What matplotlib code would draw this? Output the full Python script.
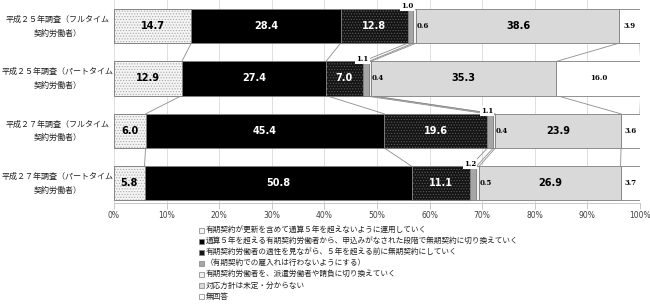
import matplotlib
matplotlib.use("Agg")
import matplotlib.pyplot as plt
from matplotlib.patches import Rectangle
import numpy as np

plt.rcParams['font.family'] = ['Noto Sans CJK JP', 'DejaVu Sans']
plt.rcParams['hatch.linewidth'] = 0.5

# Survey groups (top to bottom)
groups = [
    "平成２５年調査（フルタイム\n契約労働者）",
    "平成２５年調査（パートタイム\n契約労働者）",
    "平成２７年調査（フルタイム\n契約労働者）",
    "平成２７年調査（パートタイム\n契約労働者）",
]

# Response categories
categories = [
    "有期契約が更新を含めて通算５年を超えないように運用していく",
    "通算５年を超える有期契約労働者から、申込みがなされた段階で無期契約に切り換えていく",
    "有期契約労働者の適性を見ながら、５年を超える前に無期契約にしていく",
    "（有期契約での雇入れは行わないようにする）",
    "有期契約労働者を、派遣労働者や請負に切り換えていく",
    "対応方針は未定・分からない",
    "無回答",
]

# Shares (%) per category, one value per group
share_5yr_limit = [14.7, 12.9, 6.0, 5.8]
share_on_request = [28.4, 27.4, 45.4, 50.8]
share_before_5yr = [12.8, 7.0, 19.6, 11.1]
share_no_fixed = [1.0, 1.1, 1.1, 1.2]
share_dispatch = [0.6, 0.4, 0.4, 0.5]
share_undecided = [38.6, 35.3, 23.9, 26.9]
share_no_answer = [3.9, 16.0, 3.6, 3.7]

xticks = [0, 10, 20, 30, 40, 50, 60, 70, 80, 90, 100]
xticklabels = ["0%", "10%", "20%", "30%", "40%", "50%", "60%", "70%", "80%", "90%", "100%"]

series = [share_5yr_limit, share_on_request, share_before_5yr, share_no_fixed,
          share_dispatch, share_undecided, share_no_answer]

styles = [
    dict(facecolor="#f4f4f4", hatch="......", hatchcolor="#a8a8a8"),
    dict(facecolor="#000000", hatch=None, hatchcolor=None),
    dict(facecolor="#141414", hatch="......", hatchcolor="#5a5a5a"),
    dict(facecolor="#a6a6a6", hatch=None, hatchcolor=None),
    dict(facecolor="#f2f2f2", hatch=None, hatchcolor=None),
    dict(facecolor="#d9d9d9", hatch=None, hatchcolor=None),
    dict(facecolor="#ffffff", hatch=None, hatchcolor=None),
]
edge = "#7f7f7f"

fig = plt.figure(figsize=(6.5, 3.07), dpi=100)
ax = fig.add_axes([114 / 650, 1 - 203 / 307, 526 / 650, 203 / 307])

y = np.arange(len(groups))
bar_h = 0.65
data = np.array(series)
cum = np.vstack([np.zeros(len(groups)), np.cumsum(data, axis=0)])

for k, vals in enumerate(series):
    st = styles[k]
    kw = {}
    if st["hatch"]:
        kw["hatch"] = st["hatch"]
    bars = ax.barh(y, vals, left=cum[k], height=bar_h, color=st["facecolor"],
                   edgecolor=edge, linewidth=0.6, zorder=3, **kw)
    if st["hatch"]:
        for b in bars:
            b.set_edgecolor(st["hatchcolor"])
        # outline drawn separately so the hatch colour stays independent
        ax.barh(y, vals, left=cum[k], height=bar_h, facecolor="none",
                edgecolor=edge, linewidth=0.6, zorder=3.5)

# series lines joining segment boundaries of neighbouring bars
for k in range(1, cum.shape[0]):
    for i in range(len(groups) - 1):
        ax.plot([cum[k][i], cum[k][i + 1]],
                [y[i] + bar_h / 2, y[i + 1] - bar_h / 2],
                color="#8c8c8c", linewidth=0.6, zorder=2)

# value labels
for i in range(len(groups)):
    # large segments
    for k, col in [(0, "black"), (1, "white"), (2, "white"), (5, "black")]:
        xc = cum[k][i] + series[k][i] / 2
        ax.text(xc, y[i], f"{series[k][i]:.1f}", ha="center", va="center",
                fontsize=7, fontweight="bold", color=col,
                family="DejaVu Sans", zorder=5)
    # no-answer segment
    xc = cum[6][i] + series[6][i] / 2
    ax.text(xc, y[i], f"{series[6][i]:.1f}", ha="center", va="center",
            fontsize=5, fontweight="bold", color="black",
            family="DejaVu Serif", zorder=5)
    # narrow segment, label above the bar
    xc = cum[3][i] + series[3][i] / 2 - 0.6
    ax.text(xc, y[i] - bar_h / 2 - 0.05, f"{series[3][i]:.1f}", ha="center",
            va="center", fontsize=5, fontweight="bold", color="black",
            family="DejaVu Serif", zorder=6,
            bbox=dict(boxstyle="square,pad=0.15", facecolor="white",
                      edgecolor="none"))
    # dispatch segment, label just right of it
    ax.text(cum[5][i] + 0.1, y[i], f"{series[4][i]:.1f}", ha="left",
            va="center", fontsize=5, fontweight="bold", color="black",
            family="DejaVu Serif", zorder=5)

ax.set_xlim(0, 100)
ax.set_ylim(3 + 19.6 / 52.5, -26 / 52.5)
ax.set_xticks(xticks)
ax.set_xticklabels(xticklabels, fontsize=5.5, color="#404040",
                   family="DejaVu Sans")
ax.tick_params(axis="x", length=4, width=0.6, color="#bfbfbf", pad=2)
ax.set_yticks([])
ax.grid(axis="x", color="#d9d9d9", linewidth=0.6, zorder=0)
for s in ["top", "right", "left"]:
    ax.spines[s].set_visible(False)
ax.spines["bottom"].set_color("#bfbfbf")
ax.spines["bottom"].set_linewidth(0.6)

# group labels on the left
for i, g in enumerate(groups):
    ax.text(-10.8, y[i], g, ha="center", va="center",
            fontsize=5.8, multialignment="center", linespacing=1.7,
            color="#222222")

# legend
leg_top = 230
leg_step = 11.1
for k, lab in enumerate(categories):
    yc = leg_top + k * leg_step
    st = styles[k]
    sq = 5
    rect = Rectangle((199 / 650, 1 - (yc + sq / 2) / 307), sq / 650, sq / 307,
                     transform=fig.transFigure, facecolor=st["facecolor"],
                     edgecolor=edge, linewidth=0.5)
    fig.add_artist(rect)
    fig.text(206 / 650, 1 - yc / 307, lab, ha="left", va="center",
             fontsize=5.5, color="#222222")

fig.savefig("out.png", dpi=100)
